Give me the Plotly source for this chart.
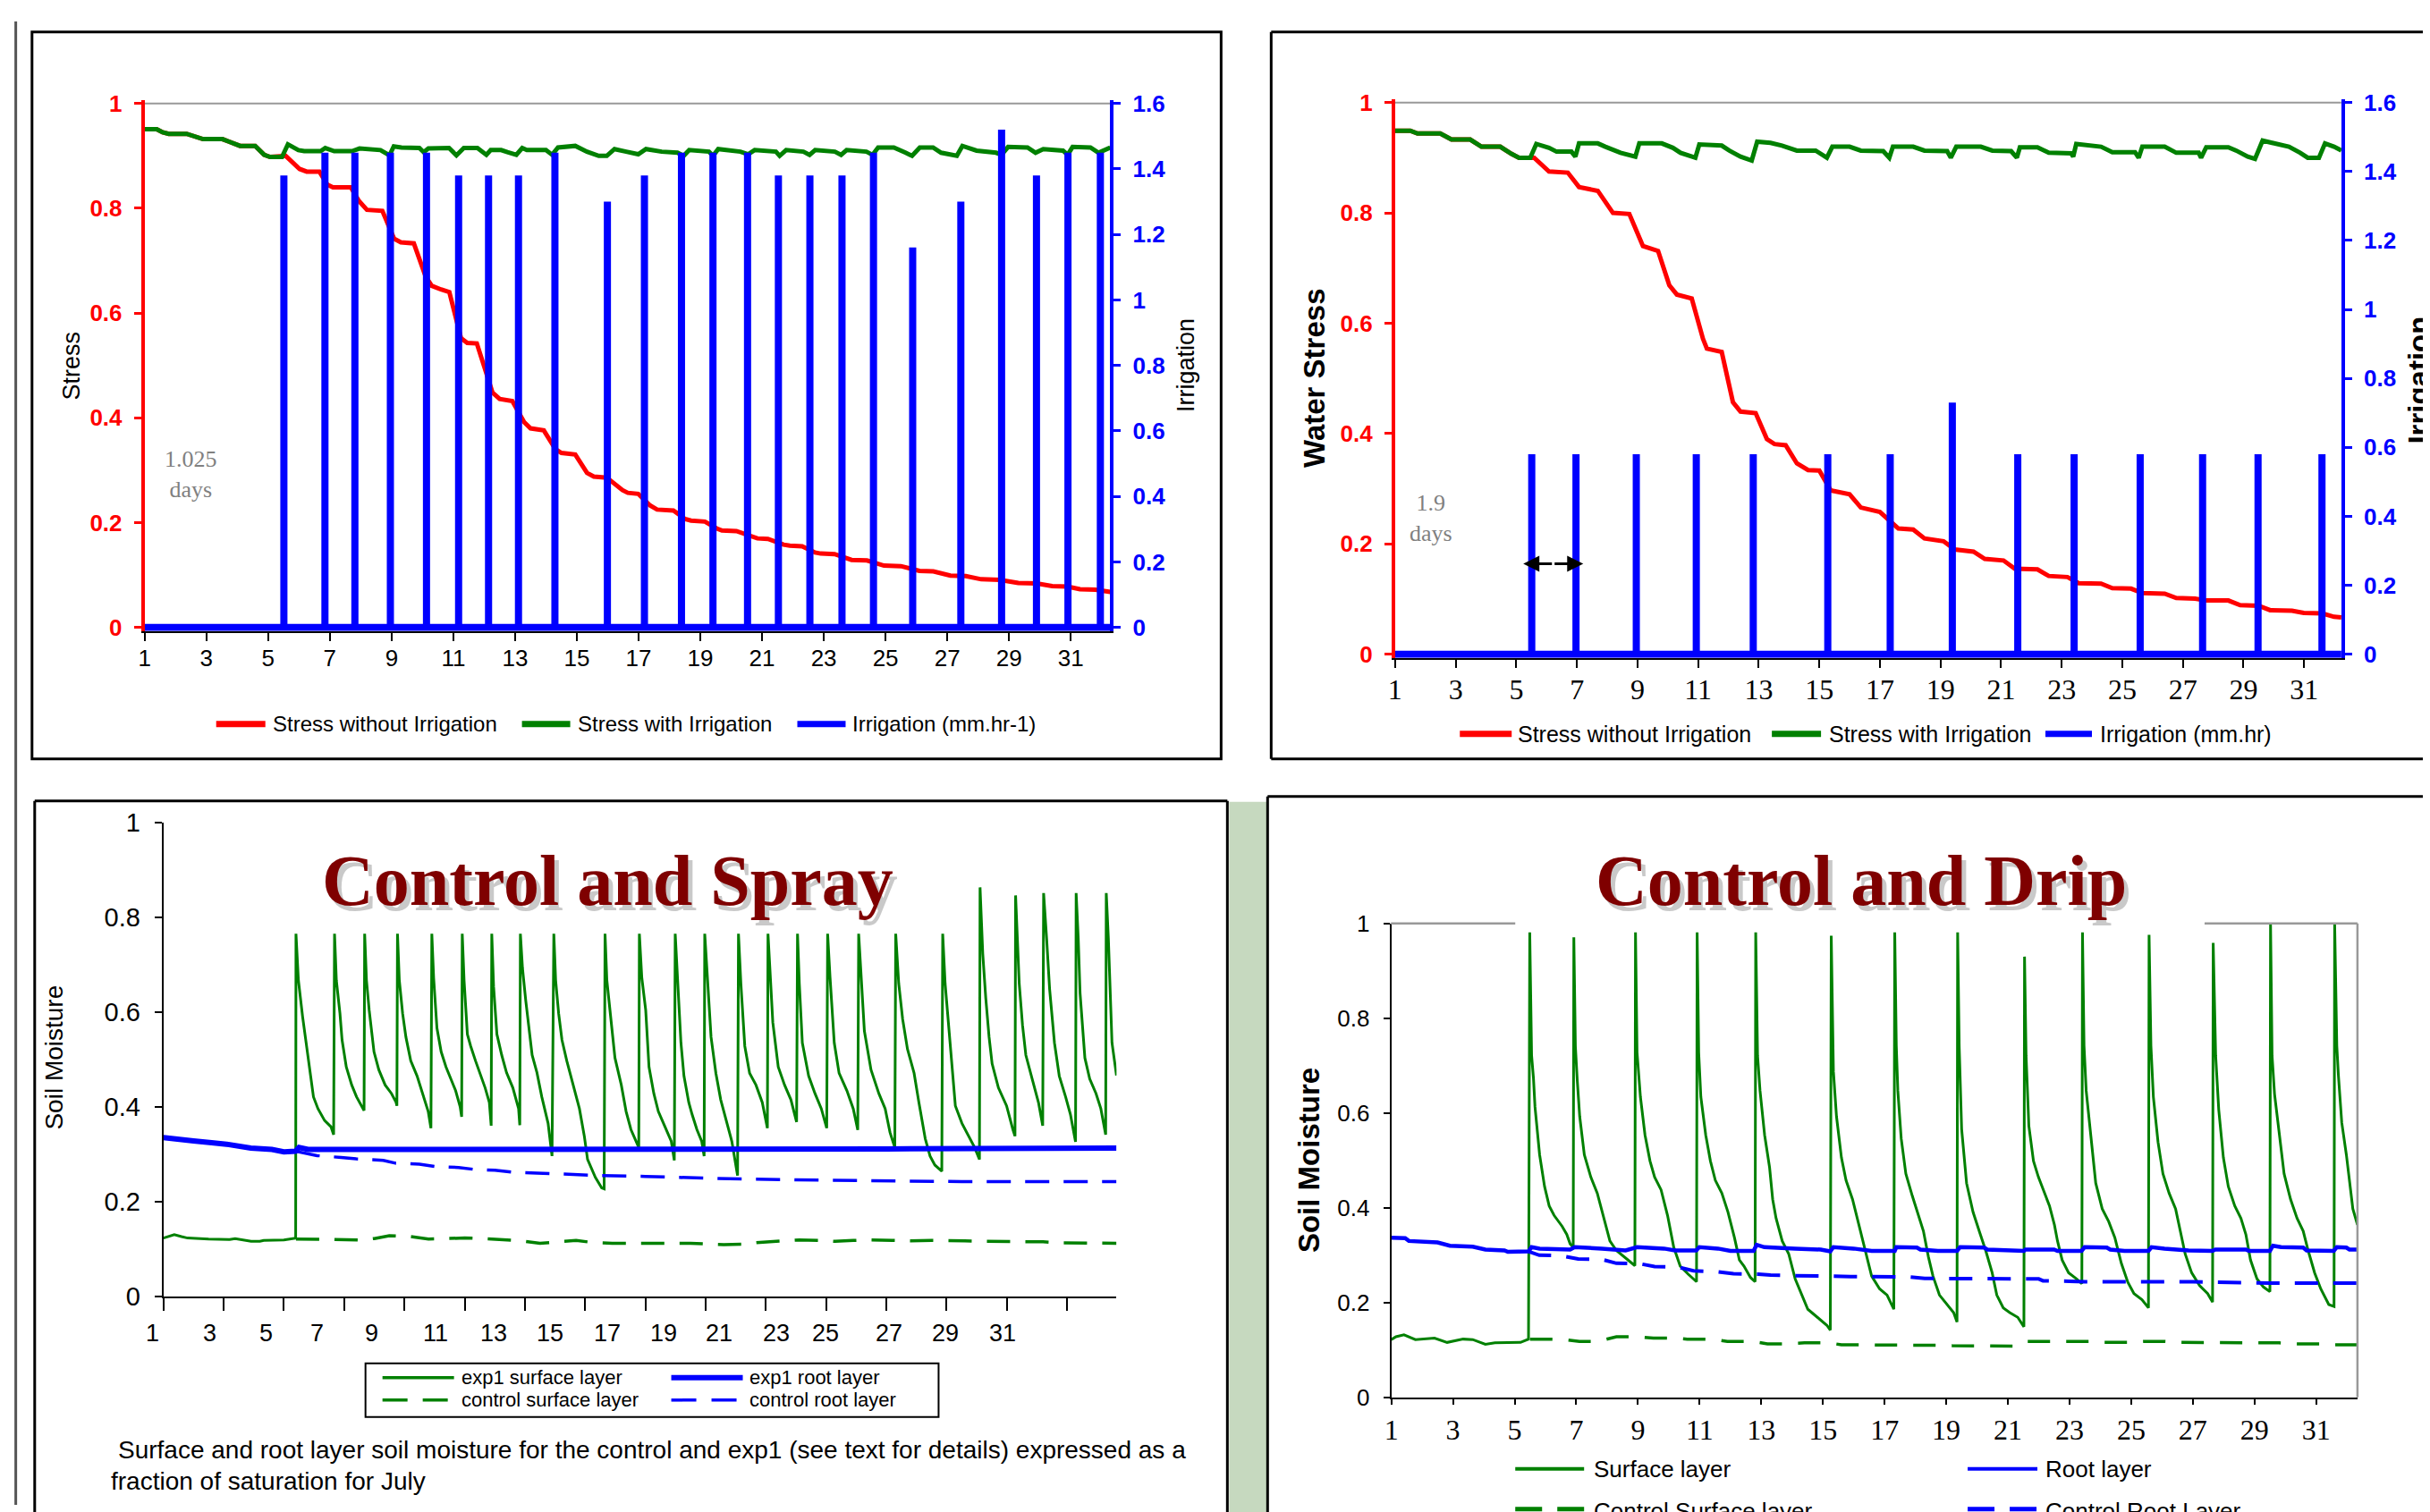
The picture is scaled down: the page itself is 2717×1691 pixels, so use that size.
import plotly.graph_objects as go

W, H = 2717, 1691
SANS = "Liberation Sans, Arial, sans-serif"
SERIF = "Liberation Serif, Times New Roman, serif"
RED, GREEN, BLUE, GRAY = "#ff0000", "#008000", "#0000ff", "#999999"

# ------------------------------------------------------------------ data
day_ticks = list(range(1, 32, 2))
day_labels = [str(d) for d in day_ticks]
stress_ticks = [0, 0.2, 0.4, 0.6, 0.8, 1]
irr_ticks = [0, 0.2, 0.4, 0.6, 0.8, 1.0, 1.2, 1.4, 1.6]

# Panel A: spray irrigation, stress
spray_irr_days = [5.51, 6.84, 7.81, 8.96, 10.13, 11.17, 12.14, 13.11, 14.29, 15.99, 17.19, 18.39,
                  19.41, 20.53, 21.53, 22.55, 23.59, 24.61, 25.88, 27.44, 28.76, 29.89, 30.91, 31.96]
spray_irr_rate = [1.38, 1.45, 1.45, 1.45, 1.45, 1.38, 1.38, 1.38, 1.45, 1.30, 1.38, 1.45,
                  1.45, 1.45, 1.38, 1.38, 1.38, 1.45, 1.16, 1.30, 1.52, 1.38, 1.45, 1.45]
spray_pre = [(1.0, 0.951), (1.39, 0.951), (1.58, 0.945), (1.78, 0.942), (2.36, 0.942), (2.55, 0.938),
             (2.89, 0.932), (3.52, 0.932), (3.85, 0.924), (4.09, 0.919), (4.58, 0.919), (4.87, 0.902),
             (5.06, 0.898), (5.45, 0.898)]
spray_dry = [(5.57, 0.900), (6.02, 0.875), (6.25, 0.870), (6.66, 0.870), (6.92, 0.845), (7.10, 0.840),
             (7.68, 0.840), (7.94, 0.814), (8.20, 0.797), (8.70, 0.795), (9.08, 0.742), (9.30, 0.735),
             (9.72, 0.733), (10.10, 0.670), (10.30, 0.652), (10.60, 0.645), (10.87, 0.640), (11.25, 0.552),
             (11.45, 0.543), (11.76, 0.542), (12.27, 0.448), (12.50, 0.436), (12.91, 0.432), (13.29, 0.392),
             (13.50, 0.380), (13.93, 0.376), (14.31, 0.340), (14.50, 0.333), (14.95, 0.330), (15.33, 0.295),
             (15.55, 0.288), (15.97, 0.286), (16.48, 0.262), (16.65, 0.257), (16.99, 0.255), (17.37, 0.233),
             (17.60, 0.225), (18.13, 0.223), (18.51, 0.207), (18.70, 0.204), (19.15, 0.202), (19.53, 0.189),
             (19.70, 0.185), (20.17, 0.184), (20.68, 0.172), (20.85, 0.170), (21.19, 0.169), (21.70, 0.158),
             (21.90, 0.156), (22.30, 0.155), (22.72, 0.143), (22.90, 0.141), (23.35, 0.140), (23.74, 0.131),
             (23.90, 0.129), (24.40, 0.128), (24.76, 0.120), (24.95, 0.118), (25.50, 0.117), (25.91, 0.110),
             (26.10, 0.108), (26.55, 0.107), (26.93, 0.101), (27.10, 0.099), (27.60, 0.098), (27.95, 0.094),
             (28.10, 0.092), (28.70, 0.091), (29.09, 0.087), (29.30, 0.085), (29.90, 0.084), (30.24, 0.081),
             (30.40, 0.079), (30.90, 0.078), (31.13, 0.075), (31.30, 0.073), (31.80, 0.072), (32.15, 0.068),
             (32.28, 0.068)]
spray_wet = [(5.64, 0.922), (5.98, 0.911), (6.17, 0.909), (6.70, 0.909), (6.85, 0.915), (7.14, 0.909),
             (7.72, 0.909), (7.96, 0.914), (8.64, 0.911), (8.93, 0.901), (9.07, 0.918), (9.32, 0.916),
             (9.90, 0.915), (10.04, 0.907), (10.19, 0.914), (10.86, 0.915), (11.10, 0.901), (11.34, 0.915),
             (11.78, 0.915), (12.07, 0.902), (12.21, 0.911), (12.55, 0.911), (12.75, 0.907), (13.04, 0.902),
             (13.23, 0.915), (13.38, 0.911), (14.00, 0.911), (14.20, 0.902), (14.39, 0.916), (14.87, 0.918),
             (14.95, 0.919), (15.33, 0.908), (15.71, 0.900), (15.97, 0.900), (16.22, 0.913), (16.60, 0.908),
             (16.99, 0.903), (17.24, 0.913), (17.75, 0.908), (18.26, 0.906), (18.46, 0.900), (18.64, 0.911),
             (19.28, 0.908), (19.41, 0.900), (19.58, 0.913), (20.30, 0.908), (20.55, 0.903), (20.76, 0.911),
             (21.45, 0.908), (21.57, 0.900), (21.78, 0.911), (22.34, 0.908), (22.54, 0.902), (22.72, 0.911),
             (23.36, 0.908), (23.56, 0.902), (23.74, 0.911), (24.38, 0.908), (24.58, 0.902), (24.76, 0.916),
             (25.27, 0.916), (25.65, 0.906), (25.86, 0.900), (26.11, 0.916), (26.54, 0.916), (26.80, 0.906),
             (27.31, 0.900), (27.49, 0.919), (27.95, 0.910), (28.58, 0.906), (28.76, 0.902), (28.97, 0.917),
             (29.60, 0.916), (29.86, 0.906), (30.11, 0.913), (30.75, 0.910), (30.90, 0.902), (31.06, 0.917),
             (31.64, 0.916), (31.90, 0.906), (32.15, 0.913), (32.28, 0.916)]

# Panel B: drip irrigation, stress
drip_irr_days = [5.51, 6.97, 8.96, 10.94, 12.82, 15.28, 17.34, 19.39, 21.55, 23.41, 25.59, 27.65, 29.48, 31.59]
drip_irr_rate = [0.58, 0.58, 0.58, 0.58, 0.58, 0.58, 0.58, 0.73, 0.58, 0.58, 0.58, 0.58, 0.58, 0.58]
drip_pre = [(1.0, 0.949), (1.5, 0.949), (1.74, 0.944), (2.49, 0.944), (2.86, 0.933), (3.48, 0.933),
            (3.85, 0.920), (4.47, 0.920), (4.84, 0.907), (5.09, 0.900), (5.46, 0.900)]
drip_dry = [(5.59, 0.900), (6.08, 0.875), (6.70, 0.873), (7.07, 0.847), (7.69, 0.840), (8.19, 0.800),
            (8.73, 0.798), (9.18, 0.740), (9.68, 0.731), (10.05, 0.669), (10.30, 0.652), (10.79, 0.645),
            (11.16, 0.572), (11.29, 0.554), (11.78, 0.548), (12.15, 0.457), (12.40, 0.440), (12.90, 0.437),
            (13.27, 0.390), (13.52, 0.381), (13.89, 0.379), (14.26, 0.346), (14.63, 0.334), (15.00, 0.333),
            (15.38, 0.297), (16.00, 0.290), (16.37, 0.266), (17.00, 0.258), (17.36, 0.239), (17.61, 0.228),
            (18.10, 0.226), (18.47, 0.210), (19.10, 0.205), (19.47, 0.190), (20.09, 0.186), (20.46, 0.173),
            (21.08, 0.170), (21.45, 0.155), (22.20, 0.154), (22.57, 0.142), (23.19, 0.140), (23.56, 0.129),
            (24.30, 0.128), (24.67, 0.120), (25.29, 0.119), (25.66, 0.111), (26.40, 0.110), (26.78, 0.102),
            (27.40, 0.101), (27.77, 0.0975), (28.50, 0.0975), (28.89, 0.089), (29.50, 0.088), (29.88, 0.080),
            (30.60, 0.079), (30.99, 0.075), (31.60, 0.074), (31.99, 0.068), (32.23, 0.067)]
drip_wet = [(5.66, 0.925), (6.08, 0.918), (6.33, 0.911), (6.82, 0.911), (6.95, 0.902), (7.07, 0.926),
            (7.69, 0.926), (7.94, 0.920), (8.44, 0.909), (8.93, 0.902), (9.06, 0.926), (9.80, 0.926),
            (10.17, 0.918), (10.42, 0.909), (10.91, 0.900), (11.04, 0.924), (11.78, 0.922), (12.03, 0.913),
            (12.40, 0.902), (12.77, 0.895), (12.95, 0.929), (13.39, 0.927), (13.77, 0.922), (14.26, 0.913),
            (14.88, 0.913), (15.25, 0.900), (15.43, 0.920), (16.00, 0.920), (16.37, 0.913), (17.11, 0.912),
            (17.31, 0.900), (17.43, 0.920), (18.10, 0.920), (18.47, 0.913), (19.22, 0.912), (19.34, 0.900),
            (19.52, 0.920), (20.33, 0.920), (20.71, 0.913), (21.33, 0.912), (21.52, 0.900), (21.62, 0.919),
            (22.20, 0.919), (22.57, 0.909), (23.31, 0.908), (23.38, 0.902), (23.48, 0.925), (24.30, 0.920),
            (24.67, 0.910), (25.42, 0.910), (25.54, 0.900), (25.66, 0.920), (26.40, 0.920), (26.78, 0.909),
            (27.52, 0.909), (27.60, 0.900), (27.77, 0.919), (28.50, 0.919), (28.76, 0.913), (29.14, 0.902),
            (29.38, 0.898), (29.63, 0.931), (30.00, 0.926), (30.50, 0.920), (30.87, 0.909), (31.12, 0.900),
            (31.49, 0.900), (31.69, 0.926), (31.99, 0.920), (32.23, 0.913)]

# Panel C: control and spray, soil moisture
spray_label_pos = [0.63, 2.54, 4.40, 6.09, 7.92, 10.04, 11.95, 13.83, 15.72, 17.60, 19.45, 21.34,
                   22.97, 25.09, 26.97, 28.86]
spray_surface = [
    (1.0, 0.123), (1.2, 0.127), (1.36, 0.130), (1.6, 0.126), (1.8, 0.123), (2.5, 0.121), (2.85, 0.120),
    (3.2, 0.120), (3.38, 0.122), (3.6, 0.119), (3.91, 0.116), (4.2, 0.116), (4.33, 0.118), (5.0, 0.119),
    (5.30, 0.121), (5.39, 0.123),
    (5.40, 0.765), (5.48, 0.667), (5.62, 0.590), (5.71, 0.547), (5.87, 0.472), (5.98, 0.421), (6.13, 0.396),
    (6.35, 0.371), (6.56, 0.358), (6.65, 0.341),
    (6.68, 0.765), (6.74, 0.667), (6.86, 0.597), (6.93, 0.541), (7.07, 0.484), (7.25, 0.446), (7.41, 0.421),
    (7.60, 0.400), (7.66, 0.392),
    (7.68, 0.765), (7.74, 0.667), (7.83, 0.604), (7.99, 0.516), (8.15, 0.478), (8.36, 0.446), (8.57, 0.428),
    (8.72, 0.410), (8.75, 0.402),
    (8.77, 0.765), (8.83, 0.667), (8.94, 0.597), (9.05, 0.547), (9.21, 0.497), (9.42, 0.465), (9.63, 0.421),
    (9.79, 0.390), (9.88, 0.355),
    (9.91, 0.765), (9.97, 0.672), (10.08, 0.566), (10.22, 0.516), (10.38, 0.484), (10.54, 0.459),
    (10.70, 0.434), (10.85, 0.400), (10.90, 0.379),
    (10.92, 0.765), (10.98, 0.667), (11.09, 0.553), (11.20, 0.528), (11.36, 0.497), (11.52, 0.468),
    (11.68, 0.440), (11.82, 0.409), (11.88, 0.360),
    (11.90, 0.765), (11.96, 0.654), (12.07, 0.553), (12.23, 0.509), (12.39, 0.472), (12.60, 0.440),
    (12.79, 0.396), (12.83, 0.361),
    (12.85, 0.765), (12.92, 0.692), (13.03, 0.623), (13.14, 0.560), (13.24, 0.509), (13.40, 0.472),
    (13.56, 0.421), (13.77, 0.365), (13.90, 0.296),
    (13.96, 0.765), (14.02, 0.667), (14.12, 0.597), (14.23, 0.541), (14.39, 0.497), (14.60, 0.446),
    (14.81, 0.396), (14.97, 0.339), (15.08, 0.289), (15.34, 0.251), (15.55, 0.229), (15.63, 0.227),
    (15.66, 0.765), (15.72, 0.667), (15.89, 0.560), (15.99, 0.503), (16.20, 0.446), (16.36, 0.390),
    (16.52, 0.352), (16.78, 0.314),
    (16.80, 0.765), (16.88, 0.673), (17.01, 0.604), (17.12, 0.484), (17.28, 0.428), (17.43, 0.390),
    (17.65, 0.358), (17.86, 0.327), (17.96, 0.287),
    (17.99, 0.765), (18.07, 0.667), (18.18, 0.535), (18.28, 0.465), (18.44, 0.409), (18.55, 0.384),
    (18.71, 0.352), (18.87, 0.327), (18.95, 0.296),
    (18.97, 0.765), (19.06, 0.667), (19.18, 0.547), (19.34, 0.471), (19.50, 0.415), (19.71, 0.365),
    (19.87, 0.327), (20.06, 0.255),
    (20.09, 0.765), (20.17, 0.660), (20.30, 0.528), (20.46, 0.471), (20.67, 0.446), (20.88, 0.409),
    (21.05, 0.355),
    (21.07, 0.765), (21.15, 0.660), (21.23, 0.578), (21.41, 0.484), (21.62, 0.446), (21.83, 0.415),
    (22.02, 0.368),
    (22.05, 0.765), (22.11, 0.660), (22.21, 0.535), (22.42, 0.465), (22.63, 0.428), (22.84, 0.396),
    (23.02, 0.355),
    (23.05, 0.765), (23.13, 0.673), (23.27, 0.535), (23.43, 0.471), (23.69, 0.434), (23.90, 0.396),
    (24.05, 0.351),
    (24.08, 0.765), (24.17, 0.660), (24.27, 0.560), (24.49, 0.478), (24.75, 0.428), (24.96, 0.396),
    (25.12, 0.346), (25.28, 0.314),
    (25.31, 0.765), (25.41, 0.660), (25.54, 0.585), (25.70, 0.522), (25.92, 0.471), (26.08, 0.409),
    (26.29, 0.333), (26.45, 0.296), (26.61, 0.277), (26.84, 0.264),
    (26.87, 0.765), (26.95, 0.660), (27.13, 0.528), (27.29, 0.402), (27.51, 0.365), (27.72, 0.340),
    (27.93, 0.314), (28.09, 0.289),
    (28.11, 0.863), (28.20, 0.723), (28.30, 0.629), (28.41, 0.547), (28.51, 0.491), (28.72, 0.440),
    (28.99, 0.402), (29.20, 0.352), (29.27, 0.338),
    (29.29, 0.846), (29.34, 0.755), (29.41, 0.660), (29.52, 0.572), (29.63, 0.509), (29.84, 0.459),
    (30.05, 0.409), (30.19, 0.360),
    (30.22, 0.851), (30.32, 0.755), (30.42, 0.648), (30.58, 0.535), (30.74, 0.465), (30.95, 0.421),
    (31.11, 0.384), (31.28, 0.326),
    (31.30, 0.851), (31.37, 0.755), (31.43, 0.640), (31.59, 0.503), (31.75, 0.459), (31.96, 0.428),
    (32.12, 0.396), (32.28, 0.341),
    (32.30, 0.851), (32.37, 0.755), (32.43, 0.630), (32.49, 0.535), (32.64, 0.466)]
spray_root = [(1.0, 0.335), (1.6, 0.332), (2.0, 0.328), (2.6, 0.324), (3.1, 0.321), (3.9, 0.313),
              (4.6, 0.310), (5.0, 0.305), (5.38, 0.306), (5.50, 0.314), (5.8, 0.310), (10.0, 0.310),
              (15.0, 0.310), (20.0, 0.309), (25.0, 0.311), (28.0, 0.312), (32.64, 0.313)]
spray_ctrl_surface = [(5.4, 0.121), (6.3, 0.121), (6.7, 0.120), (7.5, 0.119), (8.0, 0.122), (8.5, 0.128),
                      (9.2, 0.126), (9.8, 0.121), (10.5, 0.122), (11.0, 0.123), (11.6, 0.122), (12.3, 0.119),
                      (12.9, 0.117), (13.5, 0.112), (14.2, 0.115), (14.7, 0.118), (15.2, 0.114), (15.9, 0.112),
                      (17.5, 0.112), (18.5, 0.112), (19.6, 0.109), (20.2, 0.110), (20.8, 0.114), (21.5, 0.116),
                      (22.1, 0.119), (22.8, 0.118), (23.3, 0.116), (23.9, 0.118), (24.5, 0.119), (25.2, 0.118),
                      (25.8, 0.117), (26.5, 0.118), (27.0, 0.118), (27.6, 0.117), (28.2, 0.116), (29.0, 0.116),
                      (29.5, 0.116), (30.2, 0.115), (30.7, 0.113), (31.5, 0.113), (32.0, 0.113), (32.64, 0.112)]
spray_ctrl_root = [(5.4, 0.306), (6.1, 0.297), (6.9, 0.293), (7.4, 0.290), (8.3, 0.287), (8.7, 0.281),
                   (9.5, 0.279), (10.0, 0.274), (10.8, 0.272), (11.3, 0.268), (12.0, 0.266), (12.6, 0.262),
                   (13.4, 0.260), (14.5, 0.257), (15.5, 0.255), (17.0, 0.253), (18.5, 0.250), (19.8, 0.248),
                   (22.0, 0.246), (25.3, 0.244), (27.5, 0.242), (32.64, 0.242)]

# Panel D: control and drip, soil moisture
drip_surface = [
    (1.0, 0.122), (1.15, 0.128), (1.41, 0.132), (1.78, 0.122), (2.40, 0.125), (2.81, 0.116), (3.33, 0.123),
    (3.64, 0.122), (4.05, 0.112), (4.36, 0.115), (5.19, 0.116), (5.45, 0.123),
    (5.49, 0.981), (5.55, 0.721), (5.61, 0.674), (5.66, 0.613), (5.81, 0.512), (5.97, 0.445), (6.12, 0.404),
    (6.28, 0.384), (6.54, 0.361), (6.69, 0.344), (6.80, 0.324), (6.90, 0.317),
    (6.92, 0.971), (6.97, 0.741), (7.03, 0.670), (7.11, 0.593), (7.26, 0.512), (7.47, 0.465), (7.68, 0.431),
    (7.89, 0.378), (8.09, 0.330), (8.30, 0.310), (8.61, 0.293), (8.82, 0.283), (8.90, 0.278),
    (8.92, 0.981), (8.97, 0.728), (9.08, 0.634), (9.23, 0.553), (9.39, 0.499), (9.54, 0.465), (9.75, 0.438),
    (9.96, 0.384), (10.16, 0.317), (10.37, 0.277), (10.63, 0.260), (10.84, 0.246), (10.90, 0.244),
    (10.92, 0.981), (10.97, 0.728), (11.04, 0.634), (11.20, 0.553), (11.35, 0.499), (11.51, 0.458),
    (11.72, 0.431), (11.92, 0.391), (12.13, 0.337), (12.29, 0.290), (12.44, 0.277), (12.65, 0.253),
    (12.80, 0.244),
    (12.82, 0.981), (12.88, 0.721), (12.96, 0.647), (13.11, 0.553), (13.27, 0.485), (13.37, 0.418),
    (13.48, 0.378), (13.68, 0.330), (13.89, 0.303), (14.10, 0.250), (14.31, 0.216), (14.51, 0.186),
    (14.82, 0.169), (15.13, 0.152), (15.24, 0.142),
    (15.27, 0.974), (15.34, 0.688), (15.44, 0.593), (15.60, 0.506), (15.75, 0.458), (15.96, 0.418),
    (16.17, 0.364), (16.38, 0.310), (16.58, 0.256), (16.84, 0.229), (17.08, 0.216), (17.30, 0.186),
    (17.33, 0.981), (17.38, 0.742), (17.43, 0.647), (17.54, 0.546), (17.69, 0.472), (17.90, 0.425),
    (18.10, 0.384), (18.26, 0.351), (18.42, 0.297), (18.57, 0.256), (18.78, 0.216), (19.04, 0.196),
    (19.24, 0.179), (19.35, 0.159),
    (19.37, 0.981), (19.42, 0.742), (19.50, 0.566), (19.66, 0.452), (19.87, 0.391), (20.07, 0.351),
    (20.28, 0.310), (20.49, 0.263), (20.64, 0.216), (20.85, 0.189), (21.06, 0.179), (21.32, 0.169),
    (21.52, 0.149),
    (21.54, 0.930), (21.59, 0.721), (21.68, 0.573), (21.83, 0.499), (21.99, 0.465), (22.14, 0.438),
    (22.35, 0.404), (22.51, 0.364), (22.61, 0.330), (22.76, 0.290), (22.97, 0.263), (23.23, 0.250),
    (23.40, 0.240),
    (23.42, 0.981), (23.47, 0.742), (23.54, 0.647), (23.70, 0.553), (23.85, 0.452), (24.06, 0.398),
    (24.27, 0.371), (24.47, 0.337), (24.68, 0.283), (24.89, 0.243), (25.09, 0.219), (25.35, 0.206),
    (25.56, 0.189),
    (25.58, 0.976), (25.64, 0.742), (25.72, 0.634), (25.87, 0.539), (26.03, 0.472), (26.23, 0.431),
    (26.44, 0.398), (26.60, 0.351), (26.75, 0.303), (26.96, 0.263), (27.22, 0.236), (27.48, 0.219),
    (27.64, 0.201),
    (27.66, 0.959), (27.74, 0.721), (27.84, 0.607), (27.99, 0.506), (28.15, 0.445), (28.36, 0.404),
    (28.56, 0.378), (28.72, 0.344), (28.87, 0.290), (29.08, 0.250), (29.29, 0.233), (29.50, 0.223),
    (29.52, 1.000), (29.57, 0.721), (29.65, 0.640), (29.81, 0.553), (29.96, 0.472), (30.17, 0.418),
    (30.38, 0.378), (30.58, 0.351), (30.74, 0.310), (30.95, 0.263), (31.15, 0.229), (31.41, 0.196),
    (31.58, 0.192),
    (31.60, 1.000), (31.67, 0.742), (31.72, 0.681), (31.83, 0.580), (31.98, 0.512), (32.08, 0.458),
    (32.19, 0.398), (32.34, 0.364)]
drip_root = [(1.0, 0.337), (1.45, 0.336), (1.57, 0.330), (2.5, 0.327), (2.9, 0.320), (3.64, 0.318),
             (4.05, 0.312), (4.67, 0.310), (4.78, 0.307), (5.45, 0.308), (5.55, 0.317), (5.81, 0.314),
             (6.80, 0.312), (6.95, 0.317), (7.83, 0.314), (8.60, 0.310), (8.97, 0.317), (9.85, 0.314),
             (10.20, 0.310), (10.89, 0.310), (10.99, 0.317), (11.60, 0.314), (12.00, 0.309), (12.75, 0.309),
             (12.85, 0.322), (13.10, 0.317), (14.10, 0.314), (14.93, 0.312), (15.24, 0.308), (15.34, 0.317),
             (16.00, 0.314), (16.58, 0.309), (17.33, 0.309), (17.38, 0.317), (18.05, 0.316), (18.16, 0.312),
             (18.73, 0.309), (19.35, 0.309), (19.45, 0.317), (20.23, 0.316), (20.33, 0.312), (21.26, 0.310),
             (21.52, 0.309), (21.57, 0.312), (22.50, 0.312), (22.61, 0.309), (23.39, 0.309), (23.49, 0.317),
             (24.21, 0.316), (24.32, 0.312), (24.78, 0.309), (25.56, 0.309), (25.66, 0.317), (26.08, 0.314),
             (26.86, 0.310), (27.63, 0.309), (27.73, 0.312), (28.72, 0.312), (28.82, 0.309), (29.50, 0.309),
             (29.60, 0.320), (29.86, 0.317), (30.58, 0.316), (30.69, 0.310), (31.57, 0.309), (31.67, 0.317),
             (31.98, 0.316), (32.08, 0.312), (32.34, 0.312)]
drip_ctrl_surface = [(5.5, 0.123), (6.5, 0.123), (7.1, 0.118), (7.7, 0.118), (8.3, 0.128), (9.0, 0.128),
                     (9.5, 0.125), (10.2, 0.125), (10.6, 0.123), (11.4, 0.123), (11.9, 0.118), (12.7, 0.118),
                     (13.2, 0.113), (13.9, 0.113), (14.4, 0.115), (15.2, 0.115), (15.6, 0.111), (17.5, 0.111),
                     (18.0, 0.110), (18.7, 0.110), (19.2, 0.109), (19.9, 0.109), (20.4, 0.108), (21.2, 0.108),
                     (21.6, 0.118), (23.7, 0.118), (24.1, 0.116), (24.9, 0.116), (25.4, 0.118), (26.1, 0.118),
                     (26.5, 0.116), (27.3, 0.116), (27.7, 0.115), (29.8, 0.115), (30.2, 0.113), (31.1, 0.113),
                     (31.5, 0.111), (32.34, 0.111)]
drip_ctrl_root = [(5.45, 0.308), (5.8, 0.300), (6.5, 0.299), (7.06, 0.292), (7.83, 0.291), (8.3, 0.283),
                  (9.07, 0.282), (9.54, 0.276), (10.3, 0.275), (10.8, 0.267), (11.6, 0.265), (12.1, 0.261),
                  (12.9, 0.260), (13.3, 0.258), (14.0, 0.257), (14.6, 0.256), (15.3, 0.256), (15.9, 0.255),
                  (17.8, 0.254), (18.3, 0.251), (22.0, 0.250), (22.14, 0.246), (23.0, 0.245), (23.5, 0.244),
                  (27.0, 0.244), (28.5, 0.243), (29.5, 0.241), (32.34, 0.241)]


# ------------------------------------------------------------------ helpers
def xs(pts):
    return [p[0] for p in pts]


def ys(pts):
    return [p[1] for p in pts]


def pulse_path(days, rates, x0, x1):
    px, py = [x0], [0]
    for d, r in zip(days, rates):
        px += [d, d, d]
        py += [0, r, 0]
    px.append(x1)
    py.append(0)
    return px, py


# page-pixel -> paper coordinates (with a small correction for the page offset)
OX, SX = 15.2, 0.9974
OY, SY = 24.3, 0.981


def PX(p):
    return ((p - OX) / SX) / W


def PY(p):
    return 1 - ((p - OY) / SY) / H


def fit_axis(px_zero, px_top, vmax, pad_bottom, pad_top):
    d0, d1 = PY(px_zero), PY(px_top)
    k = (d1 - d0) / vmax  # paper units per data unit
    pb, pt = pad_bottom / H, pad_top / H
    dom = [d0 - pb, d1 + pt]
    rng = [-pb / k, vmax + pt / k]
    return dom, rng


fig = go.Figure()

# ---- panel A
A_X = [1, 32.28]
domA_y, rngA = fit_axis(702, 116, 1.0, 4, 4)
rngA2 = [rngA[0] * 1.6, rngA[1] * 1.6]
fig.add_trace(go.Scatter(x=xs(spray_pre + spray_dry), y=ys(spray_pre + spray_dry), mode="lines",
                         line=dict(color=RED, width=5), name="Stress without Irrigation",
                         xaxis="x", yaxis="y"))
ipx, ipy = pulse_path(spray_irr_days, spray_irr_rate, A_X[0], A_X[1])
fig.add_trace(go.Scatter(x=ipx, y=ipy, mode="lines", line=dict(color=BLUE, width=8),
                         name="Irrigation (mm.hr-1)", xaxis="x", yaxis="y2"))
fig.add_trace(go.Scatter(x=xs(spray_pre + spray_wet), y=ys(spray_pre + spray_wet), mode="lines",
                         line=dict(color=GREEN, width=5), name="Stress with Irrigation",
                         xaxis="x", yaxis="y"))

# ---- panel B
B_X = [1, 32.23]
domB_y, rngB = fit_axis(732, 115, 1.0, 4, 4)
rngB2 = [rngB[0] * 1.6, rngB[1] * 1.6]
fig.add_trace(go.Scatter(x=xs(drip_pre + drip_dry), y=ys(drip_pre + drip_dry), mode="lines",
                         line=dict(color=RED, width=5), name="Stress without Irrigation",
                         xaxis="x2", yaxis="y3"))
ipx, ipy = pulse_path(drip_irr_days, drip_irr_rate, B_X[0], B_X[1])
fig.add_trace(go.Scatter(x=ipx, y=ipy, mode="lines", line=dict(color=BLUE, width=8),
                         name="Irrigation (mm.hr)", xaxis="x2", yaxis="y4"))
fig.add_trace(go.Scatter(x=xs(drip_pre + drip_wet), y=ys(drip_pre + drip_wet), mode="lines",
                         line=dict(color=GREEN, width=5), name="Stress with Irrigation",
                         xaxis="x2", yaxis="y3"))

# ---- panel C
C_X = [1, 32.64]
fig.add_trace(go.Scatter(x=xs(spray_surface), y=ys(spray_surface), mode="lines",
                         line=dict(color=GREEN, width=3), name="exp1 surface layer", xaxis="x3", yaxis="y5"))
fig.add_trace(go.Scatter(x=xs(spray_ctrl_surface), y=ys(spray_ctrl_surface), mode="lines",
                         line=dict(color=GREEN, width=3.5, dash="26px,17px"), name="control surface layer",
                         xaxis="x3", yaxis="y5"))
fig.add_trace(go.Scatter(x=xs(spray_ctrl_root), y=ys(spray_ctrl_root), mode="lines",
                         line=dict(color=BLUE, width=3.5, dash="27px,16px"), name="control root layer",
                         xaxis="x3", yaxis="y5"))
fig.add_trace(go.Scatter(x=xs(spray_root), y=ys(spray_root), mode="lines",
                         line=dict(color=BLUE, width=6), name="exp1 root layer", xaxis="x3", yaxis="y5"))

# ---- panel D
D_X = [1, 32.34]
fig.add_trace(go.Scatter(x=xs(drip_surface), y=ys(drip_surface), mode="lines",
                         line=dict(color=GREEN, width=3), name="Surface layer", xaxis="x4", yaxis="y6"))
fig.add_trace(go.Scatter(x=xs(drip_ctrl_surface), y=ys(drip_ctrl_surface), mode="lines",
                         line=dict(color=GREEN, width=3.5, dash="25px,18px"), name="Control Surface layer",
                         xaxis="x4", yaxis="y6"))
fig.add_trace(go.Scatter(x=xs(drip_ctrl_root), y=ys(drip_ctrl_root), mode="lines",
                         line=dict(color=BLUE, width=4, dash="26px,17px"), name="Control Root Layer",
                         xaxis="x4", yaxis="y6"))
fig.add_trace(go.Scatter(x=xs(drip_root), y=ys(drip_root), mode="lines",
                         line=dict(color=BLUE, width=4.5), name="Root layer", xaxis="x4", yaxis="y6"))

fig.update_traces(showlegend=False, hoverinfo="skip")


# ------------------------------------------------------------------ axes
def tfont(size, color="black", family=SANS, weight="normal"):
    return dict(family=family, size=size, color=color, weight=weight)


common = dict(showgrid=False, zeroline=False, fixedrange=True)
C_DOM = [PX(182), PX(1248)]

layout_axes = dict(
    xaxis=dict(domain=[PX(161), PX(1241)], range=A_X, anchor="y", tickvals=day_ticks, ticktext=day_labels,
               ticks="outside", ticklen=9, tickwidth=2, tickcolor="black", showline=True, linecolor="black",
               linewidth=2, tickfont=tfont(26), ticklabelstandoff=-3, **common),
    yaxis=dict(domain=domA_y, range=rngA, anchor="x", tickvals=stress_ticks, ticks="outside", ticklen=8,
               tickwidth=3, tickcolor=RED, showline=True, linecolor=RED, linewidth=4,
               tickfont=tfont(26, RED, weight="bold"), ticklabelstandoff=8, **common),
    yaxis2=dict(range=rngA2, overlaying="y", side="right", anchor="x", tickvals=irr_ticks, ticks="outside",
                ticklen=8, tickwidth=3, tickcolor=BLUE, showline=True, linecolor=BLUE, linewidth=4,
                tickfont=tfont(26, BLUE, weight="bold"), ticklabelstandoff=8, **common),
    xaxis2=dict(domain=[PX(1559.6), PX(2618)], range=B_X, anchor="y3", tickvals=day_ticks, ticktext=day_labels,
                ticks="outside", ticklen=9, tickwidth=2, tickcolor="black", showline=True, linecolor="black",
                linewidth=2, tickfont=tfont(32, family=SERIF), ticklabelstandoff=-3, **common),
    yaxis3=dict(domain=domB_y, range=rngB, anchor="x2", tickvals=stress_ticks, ticks="outside", ticklen=8,
                tickwidth=3, tickcolor=RED, showline=True, linecolor=RED, linewidth=4,
                tickfont=tfont(26, RED, weight="bold"), ticklabelstandoff=8, **common),
    yaxis4=dict(range=rngB2, overlaying="y3", side="right", anchor="x2", tickvals=irr_ticks, ticks="outside",
                ticklen=8, tickwidth=3, tickcolor=BLUE, showline=True, linecolor=BLUE, linewidth=4,
                tickfont=tfont(26, BLUE, weight="bold"), ticklabelstandoff=8, **common),
    xaxis3=dict(domain=C_DOM, range=C_X, anchor="y5", tickvals=day_ticks, showticklabels=False,
                ticks="outside", ticklen=14, tickwidth=2, tickcolor="black", showline=True, linecolor="black",
                linewidth=2, **common),
    yaxis5=dict(domain=[PY(1450), PY(920)], range=[0, 1], anchor="x3", tickvals=stress_ticks, ticks="outside",
                ticklen=8, tickwidth=2, tickcolor="black", showline=True, linecolor="black", linewidth=2,
                tickfont=tfont(29), ticklabelstandoff=10, **common),
    xaxis4=dict(domain=[PX(1555.4), PX(2636)], range=D_X, anchor="y6", tickvals=day_ticks, ticktext=day_labels,
                ticks="outside", ticklen=6, tickwidth=2, tickcolor="black", showline=True, linecolor="black",
                linewidth=2, tickfont=tfont(32, family=SERIF), ticklabelstandoff=1, **common),
    yaxis6=dict(domain=[PY(1563), PY(1033)], range=[0, 1], anchor="x4", tickvals=stress_ticks, ticks="outside",
                ticklen=7, tickwidth=2, tickcolor="black", showline=True, linecolor="black", linewidth=2,
                tickfont=tfont(26), ticklabelstandoff=10, **common),
)

# ------------------------------------------------------------------ shapes
shapes = []


def pline(x0, y0, x1, y1, color="black", width=3, dash=None):
    d = dict(type="line", xref="paper", yref="paper", x0=PX(x0), y0=PY(y0), x1=PX(x1), y1=PY(y1),
             line=dict(color=color, width=width))
    if dash:
        d["line"]["dash"] = dash
    shapes.append(d)


# background strip between lower panels
shapes.append(dict(type="rect", xref="paper", yref="paper", x0=PX(1374), x1=PX(1416), y0=PY(1700), y1=PY(897),
                   fillcolor="#c6d9bf", line=dict(width=0), layer="below"))
# left page edge
shapes.append(dict(type="line", xref="paper", yref="paper", x0=0.0006, x1=0.0006, y0=0, y1=1,
                   line=dict(color="#555555", width=3)))
# panel borders
shapes.append(dict(type="rect", xref="paper", yref="paper", x0=PX(35), x1=PX(1365), y0=PY(849), y1=PY(36),
                   line=dict(color="black", width=3)))
pline(1421, 36, 1421, 849)
pline(1421, 36, W + 30, 36)
pline(1421, 849, W + 30, 849)
pline(38, 896, 38, H + 20)
pline(38, 896, 1372, 896)
pline(1372, 896, 1372, H + 20)
pline(1417, 891, 1417, H + 20)
pline(1417, 891, W + 30, 891)
# gray top line at stress = 1 (panels A, B)
shapes.append(dict(type="line", xref="x", yref="y", x0=A_X[0], x1=A_X[1], y0=1, y1=1,
                   line=dict(color=GRAY, width=2), layer="below"))
shapes.append(dict(type="line", xref="x2", yref="y3", x0=B_X[0], x1=B_X[1], y0=1, y1=1,
                   line=dict(color=GRAY, width=2), layer="below"))
# panel D frame (gray, interrupted by title)
pline(1555, 1033, 1694, 1033, GRAY, 2.5)
pline(2465, 1033, 2636, 1033, GRAY, 2.5)
pline(2636, 1033, 2636, 1563, GRAY, 2.5)

# ------------------------------------------------------------------ annotations
ann = []


def ptext(x, y, text, size, color="black", family=SANS, xanchor="left", angle=0, weight="normal"):
    ann.append(dict(xref="paper", yref="paper", x=PX(x), y=PY(y), text=text, showarrow=False,
                    xanchor=xanchor, yanchor="middle", textangle=angle,
                    font=dict(family=family, size=size, color=color, weight=weight)))


# x tick labels of panel C (placed at their own offsets through the x3 scale, as in the source figure)
for pos, lab in zip(spray_label_pos, day_labels):
    xp = C_DOM[0] + (pos - C_X[0]) / (C_X[1] - C_X[0]) * (C_DOM[1] - C_DOM[0])
    ann.append(dict(xref="paper", yref="paper", x=xp, y=PY(1491), text=lab, showarrow=False,
                    xanchor="center", yanchor="middle", font=tfont(27)))

# legends panel A
leg_a = [(241, 296, 302, RED, "Stress without Irrigation"), (583, 637, 643, GREEN, "Stress with Irrigation"),
         (891, 945, 951, BLUE, "Irrigation (mm.hr-1)")]
for x0, x1, tx, c, t in leg_a:
    pline(x0, 810, x1, 810, c, 7)
    ptext(tx, 810, t, 24)
# legends panel B
leg_b = [(1632, 1690, 1695, RED, "Stress without Irrigation"), (1981, 2036, 2043, GREEN, "Stress with Irrigation"),
         (2287, 2339, 2346, BLUE, "Irrigation (mm.hr)")]
for x0, x1, tx, c, t in leg_b:
    pline(x0, 821, x1, 821, c, 7)
    ptext(tx, 821, t, 25)
# legend panel C (boxed)
shapes.append(dict(type="rect", xref="paper", yref="paper", x0=PX(408), x1=PX(1049), y0=PY(1585), y1=PY(1525),
                   line=dict(color="black", width=2), fillcolor="white"))
pline(427, 1541, 507, 1541, GREEN, 3.5)
ptext(513, 1541, "exp1 surface layer", 22)
pline(750, 1541, 830, 1541, BLUE, 6)
ptext(835, 1541, "exp1 root layer", 22)
pline(427, 1566, 507, 1566, GREEN, 3.5, "28px,17px")
ptext(513, 1566, "control surface layer", 22)
pline(750, 1566, 830, 1566, BLUE, 3.5, "28px,17px")
ptext(835, 1566, "control root layer", 22)
# legend panel D
pline(1694, 1643, 1771, 1643, GREEN, 4)
ptext(1780, 1643, "Surface layer", 26)
pline(2200, 1643, 2278, 1643, BLUE, 4)
ptext(2285, 1643, "Root layer", 26)
pline(1694, 1688, 1771, 1688, GREEN, 5, "30px,17px")
ptext(1780, 1690, "Control Surface layer", 26)
pline(2200, 1688, 2278, 1688, BLUE, 5, "30px,17px")
ptext(2285, 1690, "Control Root Layer", 26)

# axis titles
ptext(79, 409, "Stress", 27, xanchor="center", angle=-90)
ptext(1325, 409, "Irrigation", 27, xanchor="center", angle=-90)
ptext(1469, 423, "Water Stress", 33, xanchor="center", angle=-90, weight="bold")
ptext(2705, 425, "Irrigation", 33, xanchor="center", angle=-90, weight="bold")
ptext(60, 1183, "Soil Moisture", 28, xanchor="center", angle=-90)
ptext(1463, 1298, "Soil Moisture", 33, xanchor="center", angle=-90, weight="bold")

# interval notes
ptext(213, 531, "1.025<br>days", 26, "#808080", SERIF, xanchor="center")
ptext(1600, 580, "1.9<br>days", 26, "#808080", SERIF, xanchor="center")
for end in (5.23, 7.21):
    ann.append(dict(xref="x2", yref="y3", x=end, y=0.164, ax=6.22, ay=0.164, axref="x2", ayref="y3",
                    showarrow=True, arrowhead=2, arrowsize=1.2, arrowwidth=3, arrowcolor="black", text=""))

# caption
ptext(129, 1622, "Surface and root layer soil moisture for the control and exp1 (see text for details) expressed as a", 28)
ptext(121, 1657, "fraction of saturation for July", 28)

# panel titles with soft shadow
for (cx, cy, t) in [(679, 985, "Control and Spray"), (2081, 985, "Control and Drip")]:
    ptext(cx + 5, cy + 6, t, 80, "rgba(60,60,60,0.28)", SERIF, xanchor="center", weight="bold")
    ptext(cx, cy, t, 80, "#7f0000", SERIF, xanchor="center", weight="bold")

fig.update_layout(width=W, height=H, margin=dict(l=0, r=0, t=0, b=0), paper_bgcolor="white",
                  plot_bgcolor="rgba(0,0,0,0)", showlegend=False, shapes=shapes, annotations=ann,
                  **layout_axes)

fig.write_html("out.html")
